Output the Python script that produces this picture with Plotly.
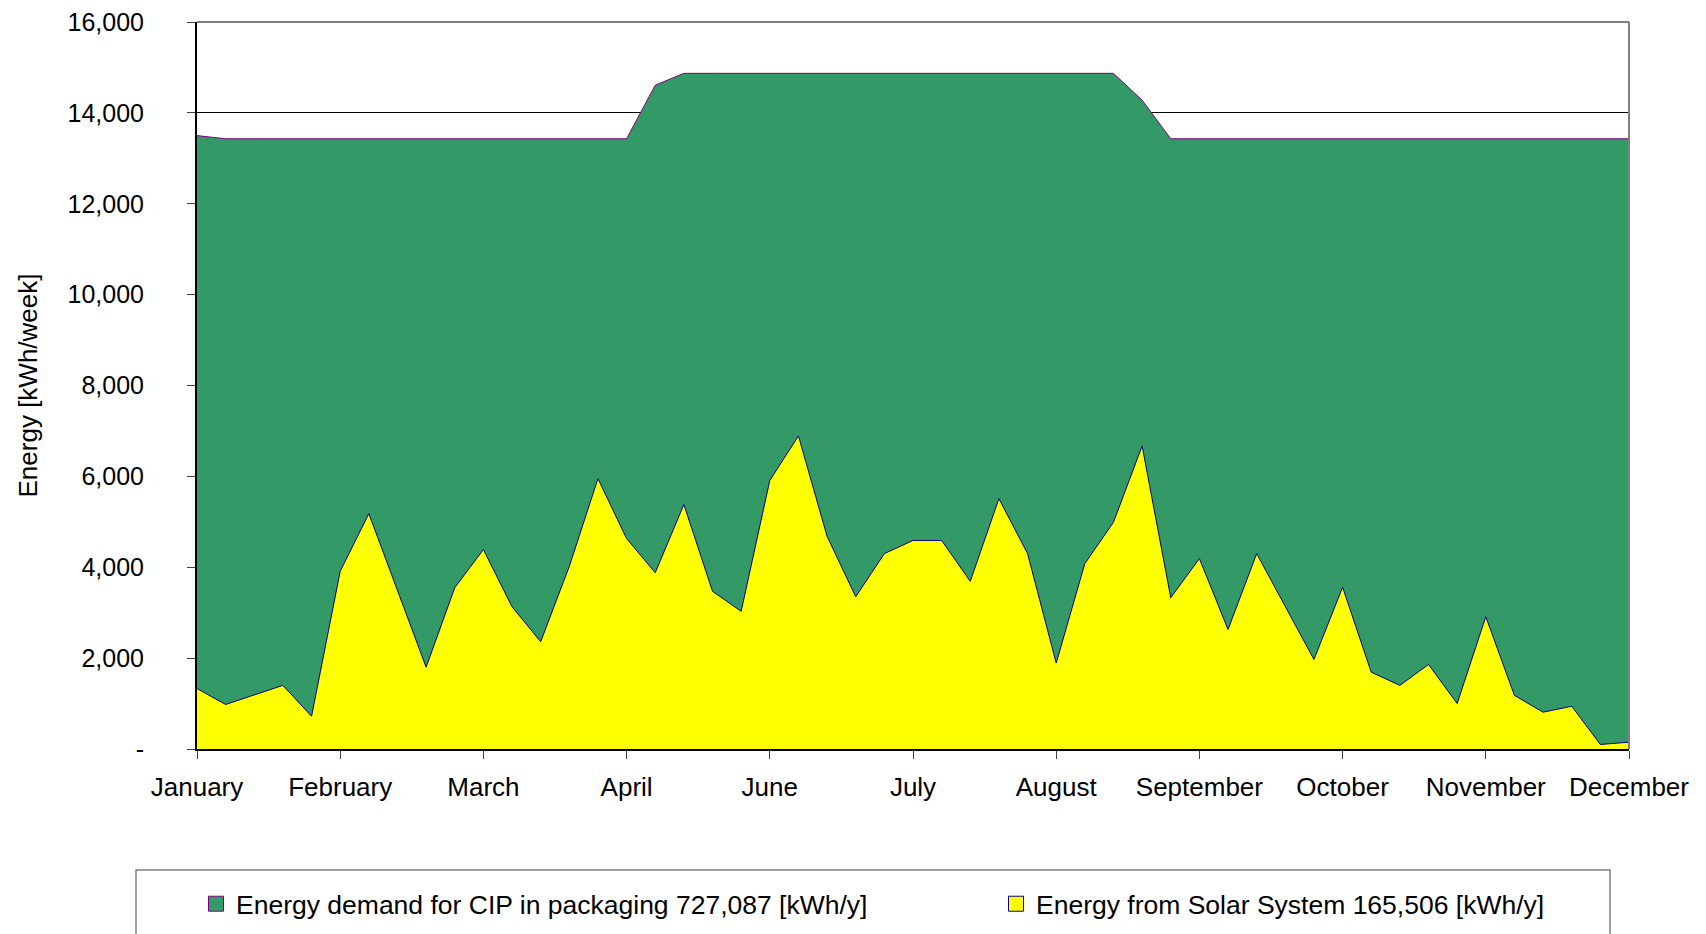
import plotly.graph_objects as go

# ---- data (weekly values, kWh/week) ----
month_labels = ["January", "February", "March", "April", "June", "July",
                "August", "September", "October", "November", "December"]

demand_cip = [13500, 13430, 13430, 13430, 13430, 13430, 13430, 13430, 13430, 13430,
              13430, 13430, 13430, 13430, 13430, 13430, 14610, 14870, 14870, 14870,
              14870, 14870, 14870, 14870, 14870, 14870, 14870, 14870, 14870, 14870,
              14870, 14870, 14870, 14280, 13430, 13430, 13430, 13430, 13430, 13430,
              13430, 13430, 13430, 13430, 13430, 13430, 13430, 13430, 13430, 13430,
              13430]

solar_energy = [1330, 980, 1190, 1400, 720, 3910, 5180, 3490, 1800, 3550,
                4390, 3130, 2360, 4020, 5950, 4630, 3880, 5380, 3470, 3030,
                5910, 6890, 4680, 3350, 4300, 4590, 4590, 3690, 5510, 4300,
                1890, 4080, 4990, 6670, 3330, 4190, 2630, 4300, 3130, 1970,
                3560, 1690, 1400, 1860, 1000, 2910, 1180, 810, 940, 100,
                150]

y_ticks = [0, 2000, 4000, 6000, 8000, 10000, 12000, 14000, 16000]

demand_name = "Energy demand for CIP in packaging 727,087 [kWh/y]"
solar_name = "Energy from Solar System 165,506 [kWh/y]"

weeks = list(range(len(solar_energy)))
weeks_per_label = (len(weeks) - 1) // (len(month_labels) - 1)
tick_pos = [i * weeks_per_label for i in range(len(month_labels))]
y_ticktext = ["-" if v == 0 else f"{v:,}" for v in y_ticks]

GREEN = "#339966"
YELLOW = "#FFFF00"
FONT = "Liberation Sans, Arial, sans-serif"

fig = go.Figure()
fig.add_trace(go.Scatter(x=weeks, y=demand_cip, mode="lines", fill="tozeroy",
                         fillcolor=GREEN, line=dict(color="#800080", width=1),
                         showlegend=False, hoverinfo="x+y"))
fig.add_trace(go.Scatter(x=weeks, y=solar_energy, mode="lines", fill="tozeroy",
                         fillcolor=YELLOW, line=dict(color="#000080", width=1),
                         showlegend=False, hoverinfo="x+y"))
# legend entries (square swatches), each in its own legend box
fig.add_trace(go.Scatter(x=[None], y=[None], mode="markers", name=demand_name,
                         legend="legend",
                         marker=dict(symbol="square", size=15, color=GREEN,
                                     line=dict(color="#800080", width=1))))
fig.add_trace(go.Scatter(x=[None], y=[None], mode="markers", name=solar_name,
                         legend="legend2",
                         marker=dict(symbol="square", size=15, color=YELLOW,
                                     line=dict(color="#000080", width=1))))

# page body has an 8px margin, so the figure is sized to fit the window exactly
OFF = 8
W, H = 1706 - OFF, 934 - OFF
L, T = 197 - OFF, 22 - OFF
R, B = 1706 - 1629, 934 - 749
pw, ph = W - L - R, H - T - B

def px_x(x):
    return (x - OFF - L) / pw

def px_y(y):
    return (H - B - (y - OFF)) / ph

legend_common = dict(orientation="h", xanchor="left", yanchor="middle",
                     font=dict(size=26.5), bgcolor="rgba(0,0,0,0)", borderwidth=0)

fig.update_layout(
    width=W, height=H,
    margin=dict(l=L, r=R, t=T, b=B, autoexpand=False),
    paper_bgcolor="white", plot_bgcolor="white",
    font=dict(family=FONT, size=26, color="black"),
    xaxis=dict(range=[weeks[0], weeks[-1]], tickmode="array", tickvals=tick_pos,
               ticktext=month_labels, ticks="outside", ticklen=8, tickwidth=1,
               tickcolor="#404040", showline=True, linecolor="black", linewidth=2,
               showgrid=False, zeroline=False, ticklabelstandoff=6,
               automargin=False, ticklabeloverflow="allow", tickfont=dict(size=26)),
    yaxis=dict(range=[0, 16000], tickmode="array", tickvals=y_ticks,
               ticktext=y_ticktext, ticks="outside", ticklen=8, tickwidth=1,
               tickcolor="#404040", showline=True, linecolor="black", linewidth=2,
               showgrid=True, gridcolor="black", gridwidth=1, zeroline=False,
               ticklabelstandoff=38, automargin=False, ticklabeloverflow="allow",
               tickfont=dict(size=25),
               title=dict(text="Energy [kWh/week]", font=dict(size=26), standoff=22)),
    legend=dict(x=px_x(196), y=px_y(904), **legend_common),
    legend2=dict(x=px_x(996), y=px_y(904), **legend_common),
    shapes=[
        dict(type="line", xref="paper", yref="paper", x0=0, x1=1, y0=1, y1=1,
             line=dict(color="#808080", width=2), layer="above"),
        dict(type="line", xref="paper", yref="paper", x0=1, x1=1, y0=0, y1=1,
             line=dict(color="#808080", width=2), layer="above"),
        dict(type="rect", xref="paper", yref="paper", x0=px_x(136), x1=px_x(1610),
             y0=px_y(870), y1=px_y(960), line=dict(color="#808080", width=1.5),
             fillcolor="rgba(0,0,0,0)", layer="above"),
    ],
)

fig.write_html("out.html")
